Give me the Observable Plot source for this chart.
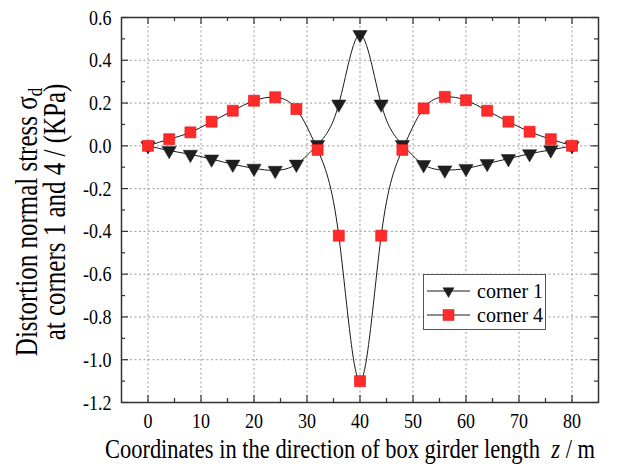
<!DOCTYPE html>
<html><head><meta charset="utf-8">
<script src="https://cdn.jsdelivr.net/npm/d3@7"></script>
<script src="https://cdn.jsdelivr.net/npm/@observablehq/plot@0.6"></script>
<style>body{margin:0;background:#fff}#chart{width:618px;height:464px}</style>
</head><body><div id="chart"></div>
<script>
// ---- data ----
const z = [0,4,8,12,16,20,24,28,32,36,40,44,48,52,56,60,64,68,72,76,80];
const corner1 = [0,-0.022,-0.040,-0.062,-0.086,-0.105,-0.115,-0.086,0.006,0.195,0.52,0.195,0.006,-0.088,-0.113,-0.106,-0.083,-0.060,-0.037,-0.019,0];
const corner4 = [0,0.031,0.063,0.113,0.164,0.211,0.227,0.172,-0.019,-0.42,-1.10,-0.42,-0.019,0.175,0.229,0.213,0.164,0.113,0.066,0.031,0];
const seriesNames = ["corner 1","corner 4"];
const xTicks = [0,10,20,30,40,50,60,70,80];
const xMinor = [5,15,25,35,45,55,65,75];
const yTicks = [-1.2,-1.0,-0.8,-0.6,-0.4,-0.2,0.0,0.2,0.4,0.6];
const yMinor = [-1.1,-0.9,-0.7,-0.5,-0.3,-0.1,0.1,0.3,0.5];
const xTitle = "Coordinates in the direction of box girder length";
const yTitle1 = "Distortion normal stress σ";
const yTitle2 = "at corners 1 and 4 / (KPa)";

// ---- layout ----
const W=618,H=464,mL=121,mR=20,mT=17,mB=62;
const xDom=[-5,85], yDom=[-1.2,0.6];
const ux=(xDom[1]-xDom[0])/(W-mL-mR), uy=(yDom[1]-yDom[0])/(H-mT-mB);
const font="'Liberation Serif', 'Times New Roman', serif";
const K=1.22; // vertical glyph stretch seen in the reference
const rows1=z.map((x,i)=>({z:x,v:corner1[i]}));
const rows4=z.map((x,i)=>({z:x,v:corner4[i]}));
const gridStyle={stroke:"#9a9a9a",strokeWidth:1,strokeDasharray:"2,2.5"};
const tickStyle={stroke:"#333",strokeWidth:1.2};
const big=7, small=4;

const plot=Plot.plot({
  width:W,height:H,marginLeft:mL,marginRight:mR,marginTop:mT,marginBottom:mB,
  x:{domain:xDom}, y:{domain:yDom},
  style:{fontFamily:font,fontSize:"18px",color:"#000",background:"#fff"},
  marks:[
    Plot.ruleX(xTicks,{...gridStyle}),
    Plot.ruleY(yTicks.filter(d=>d>yDom[0]&&d<yDom[1]),{...gridStyle}),
    // inward ticks
    Plot.ruleX(xTicks,{x:d=>d,y1:yDom[0],y2:yDom[0]+big*uy,...tickStyle}),
    Plot.ruleX(xTicks,{x:d=>d,y1:yDom[1],y2:yDom[1]-big*uy,...tickStyle}),
    Plot.ruleX(xMinor,{x:d=>d,y1:yDom[0],y2:yDom[0]+small*uy,...tickStyle}),
    Plot.ruleX(xMinor,{x:d=>d,y1:yDom[1],y2:yDom[1]-small*uy,...tickStyle}),
    Plot.ruleY(yTicks,{y:d=>d,x1:xDom[0],x2:xDom[0]+big*ux,...tickStyle}),
    Plot.ruleY(yTicks,{y:d=>d,x1:xDom[1],x2:xDom[1]-big*ux,...tickStyle}),
    Plot.ruleY(yMinor,{y:d=>d,x1:xDom[0],x2:xDom[0]+small*ux,...tickStyle}),
    Plot.ruleY(yMinor,{y:d=>d,x1:xDom[1],x2:xDom[1]-small*ux,...tickStyle}),
    Plot.line(rows1,{x:"z",y:"v",curve:"natural",stroke:"#1a1a1a",strokeWidth:1}),
    Plot.dot(rows1,{x:"z",y:"v",symbol:"triangle",rotate:180,r:5.3,fill:"#1e1e1e",stroke:"#1e1e1e",strokeWidth:0.5}),
    Plot.line(rows4,{x:"z",y:"v",curve:"natural",stroke:"#1a1a1a",strokeWidth:1}),
    Plot.dot(rows4,{x:"z",y:"v",symbol:"square",r:6.2,fill:"#ff2a2a",stroke:"#e01010",strokeWidth:0.6}),
    Plot.frame({stroke:"#333",strokeWidth:1.5}),
    Plot.axisX(xTicks,{tickSize:0,tickPadding:10,label:null,fontSize:18,fontFamily:font}),
    Plot.axisY(yTicks,{tickSize:0,tickPadding:10,label:null,fontSize:18,fontFamily:font,tickFormat:d=>d.toFixed(1)})
  ]
});
document.getElementById("chart").appendChild(plot);

// stretch tick labels vertically about their anchor, like the reference glyphs
function stretch(sel,k){
  sel.each(function(){
    const t=this.getAttribute("transform");
    if(t) this.setAttribute("transform",t+` scale(1,${k})`);
    else{
      const x=+this.getAttribute("x")||0, y=+this.getAttribute("y")||0;
      this.removeAttribute("x"); this.removeAttribute("y");
      this.setAttribute("transform",`translate(${x},${y}) scale(1,${k})`);
    }
  });
}
const svg=d3.select(plot);
stretch(svg.selectAll('[aria-label="x-axis tick label"] text, [aria-label="y-axis tick label"] text'),K);

// ---- titles & legend ----
const g=svg.append("g").attr("font-family",font).attr("fill","#000").attr("text-anchor","middle");
const xt=g.append("text").attr("transform",`translate(350,458) scale(1,${K})`).attr("font-size",22.5).attr("xml:space","preserve");
xt.append("tspan").text(xTitle+"  ");
xt.append("tspan").attr("font-style","italic").text("z");
xt.append("tspan").text(" / m");
const y1=g.append("text").attr("transform","translate(37,222) rotate(-90) scale(1,1.25)").attr("font-size",25);
y1.append("tspan").text(yTitle1);
y1.append("tspan").attr("font-size",17).attr("dy",4).text("d");
g.append("text").attr("transform","translate(65,212) rotate(-90) scale(1,1.25)").attr("font-size",25).text(yTitle2);

const lg=svg.append("g").attr("font-family",font).attr("text-anchor","start");
lg.append("rect").attr("x",423.5).attr("y",274.5).attr("width",122).attr("height",55).attr("fill","#fff").attr("stroke","#555").attr("stroke-width",1);
const sym=[d3.symbol(d3.symbolTriangle2,Math.PI*5.3*5.3)(), d3.symbol(d3.symbolSquare,Math.PI*6.2*6.2)()];
seriesNames.forEach((name,i)=>{
  const cy=i?315:291;
  lg.append("line").attr("x1",427).attr("x2",470).attr("y1",cy).attr("y2",cy).attr("stroke","#1a1a1a").attr("stroke-width",1);
  lg.append("path").attr("d",sym[i]).attr("transform",`translate(448.5,${cy})`+(i?"":" rotate(180)"))
    .attr("fill",i?"#ff2a2a":"#1e1e1e").attr("stroke",i?"#e01010":"#1e1e1e").attr("stroke-width",0.5);
  lg.append("text").attr("x",477).attr("y",cy+6.5).attr("font-size",20).attr("fill","#000").text(name);
});
</script></body></html>
